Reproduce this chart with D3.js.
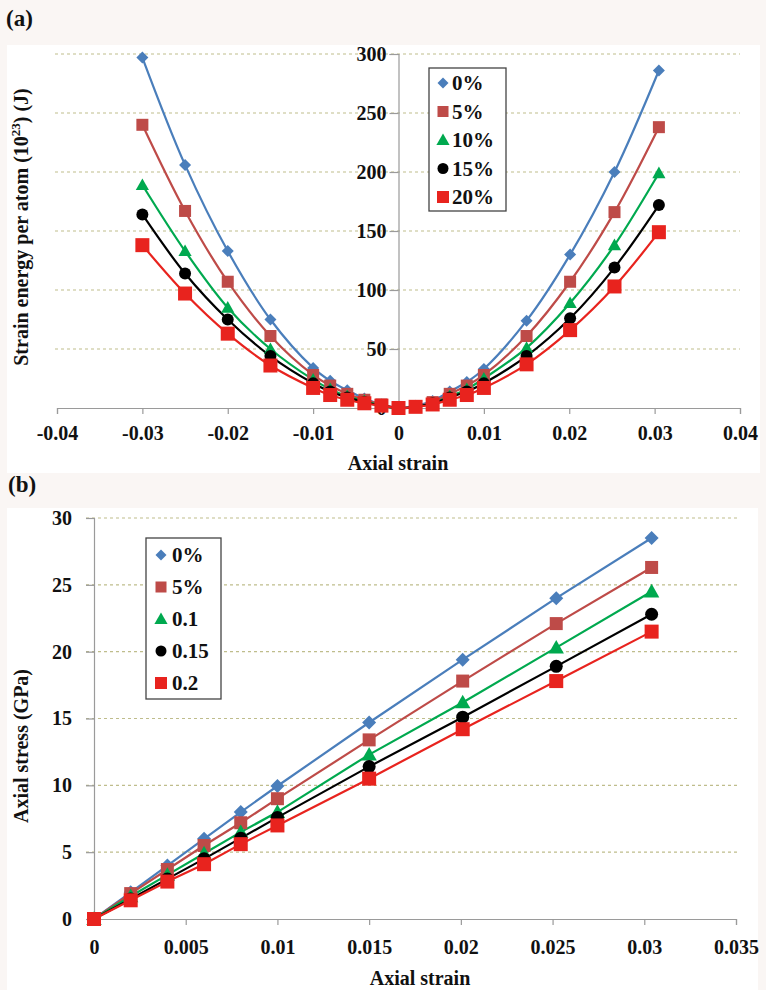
<!DOCTYPE html>
<html><head><meta charset="utf-8">
<script src="https://cdn.jsdelivr.net/npm/d3@7/dist/d3.min.js"></script>
<style>
html,body{margin:0;padding:0;background:#faf6f4;}
svg{display:block;}
</style></head>
<body>
<svg id="chart" width="766" height="990" font-family="Liberation Serif" font-weight="bold"></svg>
<script>
// ---------- Panel (a) data ----------
const strainA = [-0.03,-0.025,-0.02,-0.015,-0.01,-0.008,-0.006,-0.004,-0.002,0,0.002,0.004,0.006,0.008,0.01,0.015,0.0201,0.0253,0.0305];
const energy0  = [297,206,133,75,34,23,15,8,3,0,2,6,14,22,33,74,130,200,286];
const energy5  = [240,167,107,61,28,19,12,7,3,0,1,5,12,19,28,61,107,166,238];
const energy10 = [189,133,85,50,24,16,10,6,2,0,1,4,10,16,25,51,89,138,199];
const energy15 = [164,114,75,44,21,14,9,5,2,0,1,4,9,14,21,44,76,119,172];
const energy20 = [138,97,63,36,17,11,7,4,2,0,1,3,7,11,17,37,66,103,149];
const legendA = ["0%","5%","10%","15%","20%"];
const xTicksA = [-0.04,-0.03,-0.02,-0.01,0,0.01,0.02,0.03,0.04];
const yTicksA = [0,50,100,150,200,250,300];

// ---------- Panel (b) data ----------
const strainB = [0,0.002,0.004,0.006,0.008,0.01,0.015,0.0201,0.0252,0.0304];
const stress0  = [0,2.0,4.0,6.0,8.0,9.95,14.7,19.4,24.0,28.5];
const stress5  = [0,1.9,3.7,5.5,7.2,9.0,13.4,17.8,22.1,26.3];
const stress10 = [0,1.7,3.3,4.9,6.5,8.0,12.3,16.2,20.3,24.5];
const stress15 = [0,1.5,3.0,4.5,6.05,7.6,11.4,15.1,18.9,22.8];
const stress20 = [0,1.4,2.8,4.1,5.6,7.0,10.5,14.2,17.8,21.5];
const legendB = ["0%","5%","0.1","0.15","0.2"];
const xTicksB = [0,0.005,0.01,0.015,0.02,0.025,0.03,0.035];
const yTicksB = [0,5,10,15,20,25,30];

const colors = ["#4a7ebb","#be4b48","#00a94f","#000000","#e8231e"];
const shapes = ["diamond","square","triangle","circle","square"];
const FONT = "Liberation Serif";

const svg = d3.select("#chart");

function marker(g, shape, cx, cy, s, color){
  if(shape==="diamond"){
    g.append("path").attr("d",`M${cx},${cy-s/2}L${cx+s/2},${cy}L${cx},${cy+s/2}L${cx-s/2},${cy}Z`).attr("fill",color);
  } else if(shape==="square"){
    g.append("rect").attr("x",cx-s/2).attr("y",cy-s/2).attr("width",s).attr("height",s).attr("fill",color);
  } else if(shape==="triangle"){
    g.append("path").attr("d",`M${cx},${cy-s*0.55}L${cx+s*0.55},${cy+s*0.42}L${cx-s*0.55},${cy+s*0.42}Z`).attr("fill",color);
  } else {
    g.append("circle").attr("cx",cx).attr("cy",cy).attr("r",s/2).attr("fill",color);
  }
}

function txt(g){ return g.append("text").attr("font-family",FONT).attr("font-weight","bold").attr("fill","#111"); }

function drawPanel(cfg){
  const g = svg.append("g");
  g.append("rect").attr("x",cfg.bg[0]).attr("y",cfg.bg[1]).attr("width",cfg.bg[2]).attr("height",cfg.bg[3]).attr("fill","#ffffff");
  const x = d3.scaleLinear().domain(cfg.xDomain).range(cfg.xRange);
  const y = d3.scaleLinear().domain(cfg.yDomain).range(cfg.yRange);
  g.selectAll(".grid").data(cfg.yTicks.filter(d=>d>0)).enter().append("line")
    .attr("x1",cfg.gridX[0]).attr("x2",cfg.gridX[1])
    .attr("y1",d=>y(d)).attr("y2",d=>y(d))
    .attr("stroke","#bfbd8c").attr("stroke-width",1.2).attr("stroke-dasharray","3,3");
  const xAxis = d3.axisBottom(x).tickValues(cfg.xTicks).tickSize(6).tickFormat(d=>String(+d.toFixed(4)));
  const gx = g.append("g").attr("transform",`translate(0,${y(0)})`).call(xAxis)
    .attr("font-family",FONT).attr("font-size",20).attr("font-weight","bold");
  gx.select(".domain").attr("stroke","#9a9a9a").attr("stroke-width",1.2);
  gx.selectAll(".tick line").attr("stroke","#9a9a9a").attr("stroke-width",1.2);
  gx.selectAll(".tick text").attr("fill","#111").attr("dy",cfg.xLabDy);
  const yAxis = d3.axisLeft(y).tickValues(cfg.yTicks).tickSize(cfg.yTickSize).tickPadding(cfg.yPad);
  const gy = g.append("g").attr("transform",`translate(${x(cfg.yAxisAt)},0)`).call(yAxis)
    .attr("font-family",FONT).attr("font-size",20).attr("font-weight","bold");
  gy.select(".domain").attr("stroke","#9a9a9a").attr("stroke-width",1.2);
  gy.selectAll(".tick line").attr("stroke","#9a9a9a").attr("stroke-width",1.2);
  gy.selectAll(".tick text").attr("fill","#111");
  const line = d3.line().x(d=>x(d[0])).y(d=>y(d[1])).curve(cfg.curve);
  cfg.series.forEach((vals,i)=>{
    const pts = cfg.xs.map((xv,j)=>[xv,vals[j]]);
    g.append("path").datum(pts).attr("d",line).attr("fill","none").attr("stroke",colors[i]).attr("stroke-width",2.2);
  });
  cfg.series.forEach((vals,i)=>{
    const mg = g.append("g");
    cfg.xs.forEach((xv,j)=>marker(mg,shapes[i],x(xv),y(vals[j]),cfg.msize[i],colors[i]));
  });
  const L = cfg.legend;
  g.append("rect").attr("x",L.x).attr("y",L.y).attr("width",L.w).attr("height",L.h)
    .attr("fill","#fff").attr("stroke","#444").attr("stroke-width",1.3);
  cfg.labels.forEach((lab,i)=>{
    const cy = L.y + L.first + i*L.step;
    marker(g,shapes[i],L.x+L.mx,cy,L.ms[i],colors[i]);
    txt(g).attr("x",L.x+L.tx).attr("y",cy).attr("dy","0.35em").attr("font-size",21).text(lab);
  });
  txt(g).attr("x",cfg.xTitle[0]).attr("y",cfg.xTitle[1]).attr("text-anchor","middle").attr("font-size",20).text("Axial strain");
  const yt = txt(g).attr("transform",`translate(${cfg.yTitle[0]},${cfg.yTitle[1]}) rotate(-90)`)
    .attr("x",0).attr("font-size",20);
  cfg.yTitleParts(yt);
  const bb = yt.node().getBBox();
  yt.attr("x", -(bb.width/2));
  txt(g).attr("x",cfg.panel[0]).attr("y",cfg.panel[1]).attr("font-size",23).text(cfg.panel[2]);
}

drawPanel({
  bg:[7,45,753,428],
  xDomain:[-0.04,0.04], xRange:[57,740],
  yDomain:[0,300], yRange:[408,54],
  gridX:[55,740], xTicks:xTicksA, yTicks:yTicksA, yAxisAt:0, yTickSize:9, yPad:3, xLabDy:"1.15em",
  xs:strainA, series:[energy0,energy5,energy10,energy15,energy20],
  curve:d3.curveCatmullRom.alpha(0.5), msize:[12,12,12,12,14],
  legend:{x:429,y:68,w:77,h:143,first:15,step:28.5,mx:14,tx:23,ms:[11,11,12,11,12]},
  labels:legendA,
  xTitle:[398,470], yTitle:[28,227],
  yTitleParts:t=>{t.append("tspan").text("Strain energy per atom (10");t.append("tspan").attr("font-size",13).attr("dy",-8).text("23");t.append("tspan").attr("dy",8).text(") (J)");},
  panel:[6,26,"(a)"]
});

drawPanel({
  bg:[7,508,751,482],
  xDomain:[0,0.035], xRange:[94,736],
  yDomain:[0,30], yRange:[919,518],
  gridX:[86,737], xTicks:xTicksB, yTicks:yTicksB, yAxisAt:0, yTickSize:8, yPad:14, xLabDy:"1.3em",
  xs:strainB, series:[stress0,stress5,stress10,stress15,stress20],
  curve:d3.curveLinear, msize:[14,13,14,13,14],
  legend:{x:146,y:538,w:75,h:161,first:17,step:32,mx:15,tx:26,ms:[11,11,12,11,12]},
  labels:legendB,
  xTitle:[420,985], yTitle:[28,746],
  yTitleParts:t=>{t.text("Axial stress (GPa)");},
  panel:[8,492,"(b)"]
});
</script>
</body></html>
